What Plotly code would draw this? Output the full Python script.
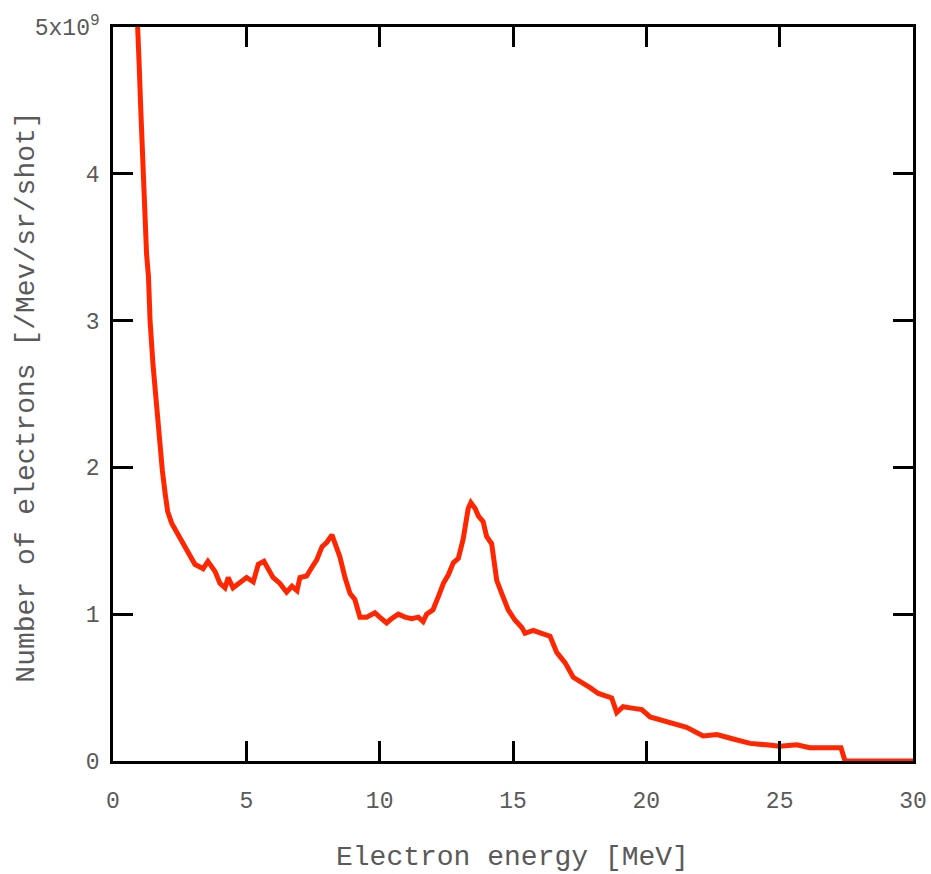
import plotly.graph_objects as go

energy_mev = [0.88, 0.93, 0.98, 1.05, 1.11, 1.2, 1.26, 1.33, 1.39, 1.5, 1.62, 1.7, 1.76, 1.85, 1.95,
              2.05, 2.2, 2.35, 2.51, 2.65, 2.82, 3.07, 3.38, 3.56, 3.83, 4.01, 4.2, 4.32, 4.5, 4.76,
              5.01, 5.26, 5.45, 5.66, 5.82, 6.0, 6.26, 6.51, 6.71, 6.9, 7.01, 7.26, 7.46, 7.64, 7.84,
              8.02, 8.21, 8.33, 8.51, 8.7, 8.89, 9.07, 9.26, 9.51, 9.82, 10.0, 10.26, 10.45, 10.7,
              10.95, 11.2, 11.45, 11.63, 11.76, 12.0, 12.2, 12.39, 12.58, 12.76, 12.95, 13.13, 13.32,
              13.42, 13.58, 13.7, 13.88, 14.01, 14.2, 14.39, 14.58, 14.82, 15.07, 15.33, 15.45, 15.76,
              16.07, 16.39, 16.64, 16.95, 17.26, 17.64, 17.89, 18.2, 18.51, 18.7, 18.89, 19.13, 19.46,
              19.83, 20.14, 20.51, 21.0, 21.51, 22.13, 22.65, 23.26, 23.89, 24.51, 25.01, 25.64,
              26.13, 26.76, 27.3, 27.45, 30.0]
electrons_1e9 = [5.2, 4.85, 4.75, 4.4, 4.13, 3.6, 3.45, 3.3, 3.0, 2.7, 2.45, 2.28, 2.12, 1.98, 1.83,
                 1.7, 1.62, 1.57, 1.53, 1.47, 1.42, 1.34, 1.31, 1.36, 1.29, 1.21, 1.18, 1.25, 1.18, 1.22,
                 1.25, 1.22, 1.34, 1.36, 1.31, 1.25, 1.21, 1.15, 1.19, 1.16, 1.25, 1.26, 1.32, 1.37, 1.46,
                 1.49, 1.54, 1.47, 1.39, 1.25, 1.14, 1.10, 0.98, 0.98, 1.01, 0.98, 0.94, 0.97, 1.0,
                 0.98, 0.97, 0.98, 0.95, 1.0, 1.03, 1.12, 1.21, 1.27, 1.35, 1.38, 1.51, 1.72,
                 1.76, 1.72, 1.67, 1.63, 1.53, 1.48, 1.23, 1.14, 1.03, 0.96, 0.91, 0.87, 0.89,
                 0.87, 0.85, 0.74, 0.67, 0.57, 0.53, 0.50, 0.46, 0.44, 0.43, 0.33, 0.37, 0.36,
                 0.35, 0.30, 0.28, 0.25, 0.23, 0.17, 0.18, 0.15, 0.12, 0.11, 0.10, 0.11,
                 0.09, 0.09, 0.09, 0.0, 0.0]

x_ticks = [0, 5, 10, 15, 20, 25, 30]
y_ticks = [0, 1, 2, 3, 4, 5]
y_ticktext = ["0", "1", "2", "3", "4", "5x10<sup>9</sup>"]

FONT = "Liberation Mono, Courier New, monospace"
GRAY = "#5a5a5a"

fig = go.Figure()
fig.add_trace(go.Scatter(x=energy_mev, y=electrons_1e9, mode="lines",
                         line=dict(color="rgb(255,38,0)", width=5), showlegend=False))

axis_common = dict(showline=True, linecolor="black", linewidth=2.5, mirror="ticks",
                   ticks="inside", ticklen=20, tickwidth=2.5, tickcolor="black",
                   showgrid=False, zeroline=False, automargin=False,
                   tickfont=dict(family=FONT, size=23, color=GRAY))

fig.update_xaxes(range=[0, 30], tickvals=x_ticks, ticklabelstandoff=17, **axis_common)
fig.update_yaxes(range=[0, 5], tickvals=y_ticks, ticktext=y_ticktext, ticklabelstandoff=6,
                 **axis_common)

fig.add_annotation(text="Electron energy [MeV]", xref="paper", yref="paper",
                   x=0.499, y=-0.132, xanchor="center", yanchor="middle", showarrow=False,
                   font=dict(family=FONT, size=28, color=GRAY))
fig.add_annotation(text="Number of electrons [/Mev/sr/shot]", xref="paper", yref="paper",
                   x=-0.1075, y=0.495, xanchor="center", yanchor="middle", textangle=-90,
                   showarrow=False, font=dict(family=FONT, size=28, color=GRAY))

fig.update_layout(width=931, height=874, margin=dict(l=113, r=18, t=27, b=113),
                  plot_bgcolor="white", paper_bgcolor="white")

fig.write_html("out.html")
